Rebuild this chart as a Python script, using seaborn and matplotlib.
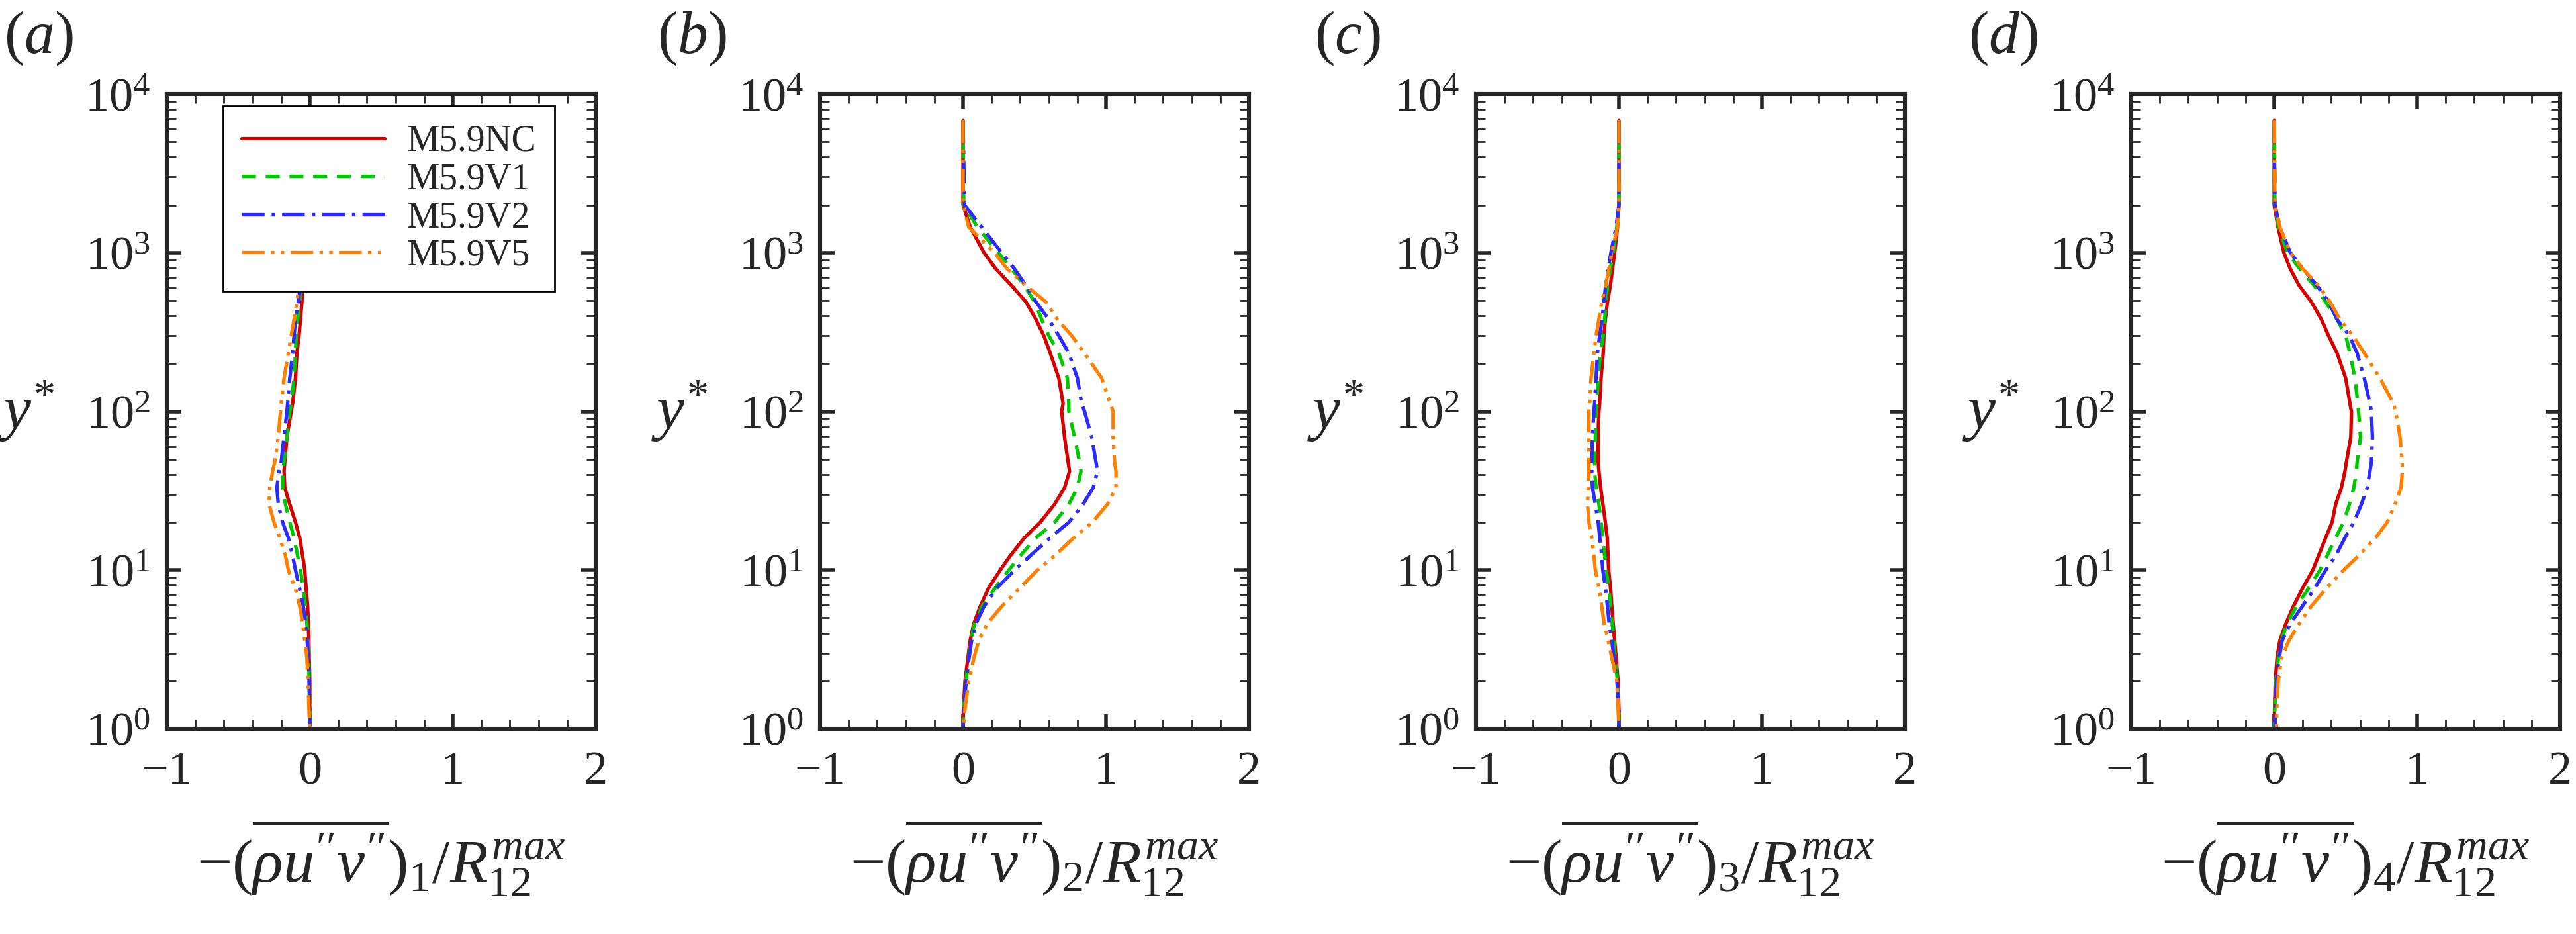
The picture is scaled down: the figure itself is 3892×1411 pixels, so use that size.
import numpy as np
import pandas as pd
import matplotlib
matplotlib.use("Agg")
import matplotlib.pyplot as plt
from matplotlib.ticker import MultipleLocator, FixedLocator, LogLocator, NullFormatter
import seaborn as sns

sns.set_style("ticks")
plt.rcParams["font.family"] = ["Liberation Serif", "DejaVu Serif"]
plt.rcParams["mathtext.fontset"] = "custom"
plt.rcParams["mathtext.rm"] = "Liberation Serif"
plt.rcParams["mathtext.it"] = "Liberation Serif:italic"
plt.rcParams["mathtext.bf"] = "Liberation Serif:bold"
plt.rcParams["mathtext.fallback"] = "stix"

# --- data ---
CASES = ["M5.9NC", "M5.9V1", "M5.9V2", "M5.9V5"]
Y_STAR = [6800, 2000, 1450, 1000, 790, 620, 490, 380, 300, 233, 162, 112, 100, 69, 48,
          42, 33, 26, 20, 16, 12.3, 10, 7.6, 5.9, 4.6, 3.6, 2.8, 2.0, 1.3, 1.0]

NC_a = [0, -0.01, -0.02, -0.03, -0.04, -0.05, -0.055, -0.065, -0.075, -0.09, -0.1, -0.12, -0.13, -0.16, -0.175,
        -0.18, -0.175, -0.14, -0.1, -0.07, -0.05, -0.035, -0.025, -0.015, -0.01, -0.006, -0.004, 0, 0, 0]
V1_a = [0, -0.01, -0.02, -0.035, -0.045, -0.06, -0.07, -0.085, -0.095, -0.1, -0.11, -0.13, -0.14, -0.16, -0.18,
        -0.19, -0.19, -0.17, -0.14, -0.11, -0.085, -0.065, -0.045, -0.03, -0.02, -0.012, -0.008, -0.004, 0, 0]
V2_a = [0, -0.01, -0.02, -0.04, -0.05, -0.065, -0.08, -0.1, -0.11, -0.12, -0.14, -0.155, -0.16, -0.18, -0.2,
        -0.215, -0.23, -0.22, -0.19, -0.15, -0.12, -0.1, -0.07, -0.045, -0.03, -0.018, -0.01, -0.005, 0, 0]
V5_a = [0, -0.01, -0.025, -0.045, -0.06, -0.075, -0.09, -0.11, -0.13, -0.15, -0.18, -0.2, -0.205, -0.22, -0.245,
        -0.26, -0.28, -0.285, -0.25, -0.21, -0.17, -0.15, -0.1, -0.07, -0.05, -0.035, -0.02, -0.012, -0.005, 0]

NC_b = [0, 0, 0.05, 0.147, 0.23, 0.34, 0.44, 0.51, 0.565, 0.61, 0.67, 0.70, 0.69, 0.71, 0.735,
        0.745, 0.71, 0.64, 0.54, 0.43, 0.33, 0.26, 0.175, 0.12, 0.075, 0.05, 0.034, 0.014, 0.002, 0]
V1_b = [0, 0.005, 0.1, 0.246, 0.34, 0.43, 0.5, 0.55, 0.6, 0.67, 0.73, 0.74, 0.74, 0.78, 0.815,
        0.825, 0.8, 0.74, 0.64, 0.51, 0.40, 0.32, 0.22, 0.133, 0.08, 0.055, 0.04, 0.02, 0.004, 0]
V2_b = [0, 0.01, 0.13, 0.27, 0.36, 0.44, 0.51, 0.6, 0.67, 0.74, 0.8, 0.83, 0.85, 0.9, 0.93,
        0.94, 0.91, 0.84, 0.74, 0.61, 0.47, 0.36, 0.23, 0.147, 0.09, 0.06, 0.042, 0.022, 0.005, 0]
V5_b = [0, 0, 0.04, 0.22, 0.31, 0.44, 0.58, 0.66, 0.76, 0.85, 0.97, 1.03, 1.05, 1.05, 1.06,
        1.07, 1.07, 1.01, 0.905, 0.775, 0.64, 0.52, 0.39, 0.27, 0.17, 0.11, 0.076, 0.04, 0.012, 0.005]

NC_c = [0, 0, -0.01, -0.03, -0.045, -0.06, -0.08, -0.095, -0.105, -0.11, -0.125, -0.135, -0.14, -0.146, -0.145,
        -0.14, -0.128, -0.112, -0.095, -0.082, -0.076, -0.072, -0.058, -0.05, -0.04, -0.03, -0.02, -0.006, 0, 0]
V1_c = [0, 0, -0.015, -0.04, -0.06, -0.08, -0.09, -0.1, -0.11, -0.13, -0.145, -0.155, -0.16, -0.165, -0.17,
        -0.17, -0.16, -0.14, -0.125, -0.113, -0.1, -0.09, -0.07, -0.058, -0.047, -0.035, -0.027, -0.01, 0, 0]
V2_c = [0, 0, -0.02, -0.056, -0.075, -0.093, -0.105, -0.118, -0.135, -0.15, -0.16, -0.17, -0.175, -0.186, -0.19,
        -0.19, -0.185, -0.165, -0.145, -0.134, -0.12, -0.113, -0.093, -0.08, -0.068, -0.05, -0.035, -0.014, 0, 0]
V5_c = [0, 0, -0.01, -0.05, -0.07, -0.093, -0.12, -0.14, -0.16, -0.175, -0.195, -0.205, -0.21, -0.21, -0.21,
        -0.21, -0.215, -0.22, -0.21, -0.19, -0.175, -0.165, -0.138, -0.12, -0.103, -0.075, -0.05, -0.014, -0.005, 0]

NC_d = [0, 0, 0.027, 0.068, 0.113, 0.175, 0.26, 0.33, 0.38, 0.44, 0.5, 0.53, 0.54, 0.536, 0.505,
        0.495, 0.47, 0.43, 0.405, 0.36, 0.31, 0.27, 0.196, 0.134, 0.082, 0.04, 0.02, 0.008, 0.002, 0]
V1_d = [0, 0.005, 0.03, 0.093, 0.18, 0.28, 0.36, 0.44, 0.5, 0.53, 0.565, 0.585, 0.59, 0.604, 0.58,
        0.575, 0.557, 0.526, 0.485, 0.43, 0.37, 0.32, 0.237, 0.155, 0.089, 0.052, 0.03, 0.012, 0.004, 0]
V2_d = [0, 0.005, 0.04, 0.113, 0.2, 0.3, 0.38, 0.44, 0.526, 0.58, 0.63, 0.67, 0.68, 0.687, 0.68,
        0.67, 0.65, 0.61, 0.557, 0.495, 0.43, 0.36, 0.28, 0.196, 0.113, 0.056, 0.035, 0.016, 0.008, 0.005]
V5_d = [0, 0.005, 0.04, 0.113, 0.2, 0.31, 0.39, 0.46, 0.55, 0.63, 0.74, 0.835, 0.85, 0.88, 0.895,
        0.897, 0.887, 0.845, 0.79, 0.71, 0.59, 0.485, 0.36, 0.258, 0.175, 0.103, 0.052, 0.028, 0.018, 0.016]

PANELS = ["a", "b", "c", "d"]
PANEL_DATA = [[NC_a, V1_a, V2_a, V5_a], [NC_b, V1_b, V2_b, V5_b],
              [NC_c, V1_c, V2_c, V5_c], [NC_d, V1_d, V2_d, V5_d]]
X_TICKS = [-1, 0, 1, 2]

# --- styles ---
PALETTE = dict(zip(CASES, ["#d40000", "#00c800", "#2b2bff", "#ff8000"]))
DASHES = dict(zip(CASES, ["", (4.0, 2.8), (6.5, 2.0, 1.0, 2.0), (6.5, 1.8, 1.0, 1.8, 1.0, 1.8)]))
LW = 1.9

W, H = 3892, 1411
fig = plt.figure(figsize=(W / 200, H / 200), dpi=200)
lefts = [252, 1239, 2230, 3220]
ax_w, top, bot = 648, 142, 1101

for i, (tag, series) in enumerate(zip(PANELS, PANEL_DATA)):
    ax = fig.add_axes([lefts[i] / W, 1 - bot / H, ax_w / W, (bot - top) / H])
    df = pd.concat([pd.DataFrame({"x": vals, "y": Y_STAR, "case": name})
                    for name, vals in zip(CASES, series)], ignore_index=True)
    sns.lineplot(data=df, x="x", y="y", hue="case", style="case", palette=PALETTE,
                 dashes=DASHES, sort=False, estimator=None, linewidth=LW, ax=ax,
                 legend=(i == 0))

    ax.set_yscale("log")
    ax.set_xlim(-1, 2)
    ax.set_ylim(1, 1e4)
    ax.xaxis.set_major_locator(FixedLocator(X_TICKS))
    ax.xaxis.set_minor_locator(MultipleLocator(0.2))
    ax.yaxis.set_minor_locator(LogLocator(base=10, subs=np.arange(2, 10)))
    ax.yaxis.set_minor_formatter(NullFormatter())
    ax.tick_params(which="both", direction="in", top=True, right=True, labelsize=26)
    ax.tick_params(which="major", length=8, width=2.0)
    ax.tick_params(which="minor", length=5, width=1.0)
    ax.tick_params(axis="x", pad=12)
    ax.tick_params(axis="y", pad=9)
    for sp in ax.spines.values():
        sp.set_linewidth(2.2)

    ax.set_xlabel(r"$-(\overline{\rho u^{\prime\prime} v^{\prime\prime}})_%d/R_{12}^{max}$" % (i + 1),
                  fontsize=34, va="top")
    ax.xaxis.set_label_coords(0.5, -0.14)
    ax.set_ylabel(r"$y^{*}$", fontsize=34, rotation=0, va="center", ha="center")
    ax.yaxis.set_label_coords(-0.327, 0.5)
    ax.text(-0.299, 1.088, r"$(%s)$" % tag, transform=ax.transAxes, fontsize=33,
            ha="center", va="center")

    if i == 0:
        handles, labels = ax.get_legend_handles_labels()
        leg = ax.legend(handles, labels, loc="upper left", bbox_to_anchor=(0.131, 0.981),
                        fontsize=20, frameon=True, fancybox=False, framealpha=1,
                        edgecolor="black", borderaxespad=0, borderpad=0.5,
                        labelspacing=0.1, handlelength=3.9, handletextpad=0.6)
        leg.get_frame().set_linewidth(1.0)
        for ln in leg.get_lines():
            ln.set_linewidth(LW)

fig.savefig("out.png", dpi=200, facecolor="white")
